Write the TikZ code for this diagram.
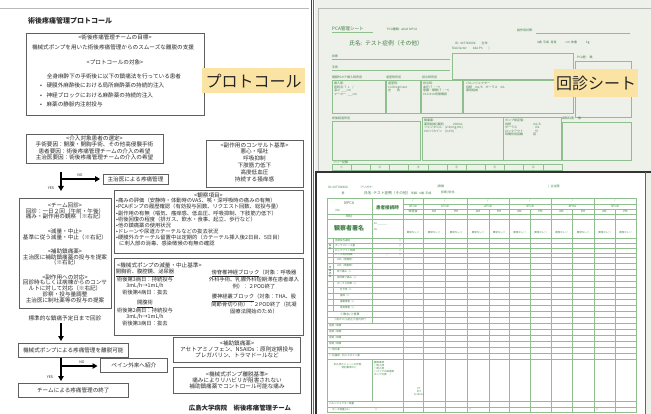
\documentclass[tikz,border=0pt]{standalone}
\usepackage{fontspec}
\setmainfont{Noto Sans CJK JP}
\usetikzlibrary{arrows.meta}
\definecolor{lblyellow}{HTML}{FBE3A4}
\definecolor{fgreen}{HTML}{8FBF8F}
\definecolor{ftext}{HTML}{3F7F45}
\definecolor{panelbg}{HTML}{EEF0EA}
\definecolor{inkc}{HTML}{2A2A2A}
\begin{document}
\begin{tikzpicture}[x=1pt,y=-1pt,
  box/.style={draw=inkc!75, line width=0.7pt, fill=white, inner sep=0pt},
  t/.style={inner sep=0pt, text=inkc, font=\fontsize{5.6}{6.3}\selectfont},
  ts/.style={t, font=\fontsize{5.4}{6.2}\selectfont},
  flow/.style={line width=1.5pt, draw=black, -{Triangle[length=5pt,width=5.5pt]}},
  yn/.style={inner sep=0pt, text=inkc, font=\fontsize{3.6}{4}\selectfont},
  lbl/.style={fill=lblyellow, inner sep=0pt, text=black!85, font=\fontsize{16}{16}\selectfont},
  fl/.style={draw=fgreen, line width=0.45pt},
  ft/.style={inner sep=0pt, text=ftext, font=\fontsize{3}{3.5}\selectfont},
  fts/.style={inner sep=0pt, text=ftext, font=\fontsize{2.5}{3}\selectfont}]
\useasboundingbox (0,0) rectangle (651,414);
\fill[white] (0,0) rectangle (651,414);
% ---------------- left panel ----------------
\draw[gray!55, line width=0.6pt] (0,8) -- (309,8);
\draw[black!75, line width=1pt] (311,0) -- (311,414);
\draw[black!60, line width=1pt] (313.5,0) -- (313.5,414);
\node[t, anchor=west, font=\fontsize{7}{8}\selectfont\bfseries] (title) at (28,21) {術後疼痛管理プロトコール};

% box 1
\node[box, anchor=north west, minimum width=178pt, minimum height=82pt] (b1) at (26,33) {};
\node[t] (b1h1) at (115,37.5) {<術後疼痛管理チームの目標>};
\node[t] (b1l1) at (113,47) {機械式ポンプを用いた術後疼痛管理からのスムーズな離脱の支援};
\node[t] (b1h2) at (115,62) {<プロトコールの対象>};
\node[t] (b1l2) at (114,76) {全身麻酔下の手術後に以下の鎮痛法を行っている患者};
\node[t, anchor=west] (b1u1) at (40,85.5) {•\hspace{4.5pt}硬膜外麻酔後における局所麻酔薬の持続的注入};
\node[t, anchor=west] (b1u2) at (40,95) {•\hspace{4.5pt}神経ブロックにおける麻酔薬の持続的注入};
\node[t, anchor=west] (b1u3) at (40,104.5) {•\hspace{4.5pt}麻薬の静脈内注射投与};
\node[lbl, anchor=north west, minimum width=103pt, minimum height=25pt] (lproto) at (202,68) {プロトコール};

% box 2
\node[box, anchor=north west, minimum width=137pt, minimum height=29pt] (b2) at (26,134) {};
\node[t, align=center] (b2t) at (94.5,148) {<介入対象患者の選定>\\手術要因：開腹・開胸手術、その他高侵襲手術\\患者要因：術後疼痛管理チームの介入の希望\\主治医要因：術後疼痛管理チームの介入の希望};

% consult box
\node[box, anchor=north west, minimum width=97pt, minimum height=47pt] (b3) at (206,140) {};
\node[t, align=center, font=\fontsize{5.6}{6.8}\selectfont] (b3t) at (254.5,162) {<副作用のコンサルト基準>\\悪心・嘔吐\\呼吸抑制\\下肢筋力低下\\高度低血圧\\持続する掻痒感};

% flow 1
\coordinate (a1s) at (61,172);
\coordinate (a1m) at (61,179);
\coordinate (a1e) at (61,191);
\node[box, minimum width=65pt, minimum height=10pt] (n1) at (135.5,179) {};
\node[t] (n1t) at (n1) {主治医による疼痛管理};
\draw[flow] (a1s) -- (a1e);
\draw[flow, shorten >=2.5pt] (a1m) -- (n1.west);
\node[yn] (no1) at (80,175.5) {NO};
\node[yn] (yes1) at (51,188) {YES};

% left column box
\node[box, anchor=north west, minimum width=92pt, minimum height=110pt] (b4) at (19,198) {};
\node[t, align=center, font=\fontsize{5.6}{5.9}\selectfont] (b4a) at (65,211) {<チーム回診>\\回診：一日２回（午前・午後）\\痛み・副作用の観察（※右記）};
\node[t, align=center, font=\fontsize{5.6}{5.9}\selectfont] (b4b) at (65,234) {<減量・中止>\\基準に従う減量・中止（※右記）};
\node[t, align=center, font=\fontsize{5.6}{5.9}\selectfont] (b4c) at (65,257) {<補助鎮痛薬>\\主治医に補助鎮痛薬の投与を提案\\（※右記）};
\node[t, align=center, font=\fontsize{5.6}{5.8}\selectfont] (b4d) at (65,288.5) {<副作用への対応>\\回診時もしくは病棟からのコンサ\\ルトに対して対応（※右記）\\診察・投与量調整\\主治医に制吐薬等の投与の提案};
\node[t] (std) at (65,318) {標準的な鎮痛予定日まで回診};

% observation box
\node[box, anchor=north west, minimum width=189pt, minimum height=63pt] (b5) at (114,190) {};
\node[t] (b5h) at (208.5,195) {<観察項目>};
\node[ts, anchor=north west, align=left, font=\fontsize{5.3}{6.15}\selectfont] (b5t) at (116,198) {•痛みの評価（安静時・体動時のVAS、咳・深呼吸時の痛みの有無）\\•PCAポンプの履歴確認（有効投与回数、リクエスト回数、総投与量）\\•副作用の有無（嘔気、瘙痒感、低血圧、呼吸抑制、下肢筋力低下）\\•術後回復の程度（排ガス、飲水・食事、起立、歩行など）\\•他の鎮痛薬の使用状況\\•ドレーンや尿道カテーテルなどの抜去状況\\•硬膜外カテーテル留置中は定期的（カテーテル挿入後2日目、5日目）\\\hspace{3pt}に刺入部の消毒、感染徴候の有無の確認};

% pump reduction box
\node[box, anchor=north west, minimum width=189pt, minimum height=77pt] (b6) at (114,258) {};
\node[t, anchor=west] (b6h) at (117,265) {<機械式ポンプの減量・中止基準>};
\node[ts, align=center, font=\fontsize{5.3}{6.1}\selectfont] (b6l1) at (145,282) {\underline{開胸術、腹腔鏡、泌尿器}\\術後第3病日：持続投与\\3mL/h→1mL/h\\術後第4病日：抜去};
\node[ts, align=center, font=\fontsize{5.3}{6.1}\selectfont] (b6l2) at (145,313) {\underline{開腹術}\\術後第2病日：持続投与\\3mL/h→1mL/h\\術後第3病日：抜去};
\node[ts, align=center, font=\fontsize{5.3}{6.1}\selectfont] (b6r1) at (254,279) {\underline{傍脊椎神経ブロック}（対象：呼吸器\\外科手術、乳腺外科短期滞在患者導入\\例）：２POD終了};
\node[ts, align=center, font=\fontsize{5.3}{6.1}\selectfont] (b6r2) at (254,304) {\underline{腰神経叢ブロック}（対象：THA、股\\関節骨切り術）：２POD終了（抗凝\\固療法開始のため）};

% flow 2
\coordinate (a2s) at (61,323);
\coordinate (a2e) at (61,341);
\draw[flow] (a2s) -- (a2e);
\node[box, anchor=north west, minimum width=110pt, minimum height=14pt] (n2) at (18,343) {};
\node[t] (n2t) at (n2) {機械式ポンプによる疼痛管理を離脱可能};
\coordinate (a3m) at (61,366);
\coordinate (a3e) at (61,381);
\draw[flow] (n2.south -| a3m) -- (a3e);
\node[box, anchor=north west, minimum width=67pt, minimum height=14pt] (n3) at (100,358) {};
\node[t] (n3t) at (n3) {ペイン外来へ紹介};
\draw[flow, shorten >=2.5pt] (a3m) -- (n3.west |- a3m);
\node[yn] (no2) at (82,362.5) {NO};
\node[yn] (yes2) at (50,377.5) {YES};
\node[box, anchor=north west, minimum width=110pt, minimum height=14pt] (n4) at (18,383) {};
\node[t] (n4t) at (n4) {チームによる疼痛管理の終了};

% adjuvant box
\node[box, anchor=north west, minimum width=127pt, minimum height=25pt] (b7) at (173,337) {};
\node[t, align=center] (b7t) at (237,349.5) {<補助鎮痛薬>\\アセトアミノフェン、NSAIDs：原則定期投与\\プレガバリン、トラマドールなど};
\node[box, anchor=north west, minimum width=127pt, minimum height=26pt] (b8) at (173,367) {};
\node[t, align=center] (b8t) at (237,380.5) {<機械式ポンプ離脱基準>\\痛みによりリハビリが阻害されない\\補助鎮痛薬でコントロール可能な痛み};
\node[t, font=\fontsize{6.4}{7}\selectfont\bfseries] (foot) at (240,408) {広島大学病院　術後疼痛管理チーム};

% ---------------- right top panel ----------------
\fill[panelbg] (314.5,0) rectangle (651,172);
\draw[gray!55, line width=0.6pt] (318,8) -- (651,8);
\draw[gray!55, line width=0.6pt] (318,8) -- (318,172);
\node[ft, anchor=west, font=\fontsize{4.6}{5}\selectfont] (pcat) at (332,29) {PCA管理シート};
\draw[fl] (332,32.5) -- (373,32.5);
\node[ft, anchor=west] (pcak) at (387,29.5) {PCA種類:\ \ adult IVPCA};
\node[ft, anchor=west] (fuku) at (517,30) {副作用対策:};
\draw[fl] (536,33) -- (630,33);
\node[ft, anchor=west, font=\fontsize{5.8}{6.5}\selectfont] (name1) at (349,43) {氏名:\ \ テスト症例（その他）};
\node[ft, anchor=west] (id1) at (455,43) {ID:\ \ 0077XXXXX\qquad 生年:};
\node[ft, anchor=west] (age1) at (537,43) {0歳\ \ 平成\ \ 身長\qquad\quad cm\ \ 体重\qquad\quad kg};
\node[ft, anchor=west] (risk) at (452,49) {Risk factor\qquad ASA PS\qquad )};
\node[ft, anchor=west] (diag) at (332,56) {診断};
\draw[fl] (332,59) -- (450,59);
\node[ft, anchor=west] (ope) at (332,67) {手術};
\draw[fl] (332,70) -- (450,70);
\draw[fl] (452,53) rectangle (573,79);
\node[ft, anchor=west] (pcah) at (577,57) {PCA歴:\quad 無};
\draw[fl] (575,61) rectangle (631,117);
\node[ft, anchor=west] (h1) at (332,77) {硬膜外カテ挿入時所見};
\node[ft, anchor=west] (h2) at (386,77) {退室時所見};
\node[ft, anchor=west] (h3) at (422,77) {投与時所見};
\draw[fl] (332,80) rectangle (385,113);
\draw[fl] (386,80) rectangle (420,113);
\draw[fl] (421,80) rectangle (462,113);
\draw[fl] (463,80) rectangle (573,113);
\node[ft, anchor=north west, align=left] (c1) at (334,82) {挿入部:\\穿刺点:\ T\ \ L\quad /\\深さ\ \ \_\_\_cm\\マーカー\ \ \_\_\_cm};
\node[ft, anchor=north west, align=left] (c2) at (388,82) {退室時:\\Cold sign test\\左\qquad 右};
\node[ft, anchor=north west, align=left] (c3) at (423,82) {投与時:\\血圧(↑・→)\\意識・鎮静(↑・→)\\ロスキの有無確認};
\node[ft, anchor=north west, align=left] (c4) at (466,82) {バルンジェクター\\持続\quad mL/h\quad ボーラス\quad mL\\薬剤組成};
\node[ft, anchor=west] (h4) at (332,118) {術後経過所見};
\draw[fl] (332,121) rectangle (420,160);
\draw[fl] (422,117) rectangle (503,160);
\node[ft, anchor=north west, align=left] (c5) at (424,119) {鎮痛薬:\\薬剤組成(濃度)\qquad\quad 200mL\\フェンタニル\quad (2.5mcg/mL)\\ロピバカイン\quad (0.2\%)};
\draw[fl] (503,117) rectangle (561,160);
\node[ft, anchor=north west, align=left] (c6) at (505,119) {ポンプ設定値:\\持続\hspace{22pt}mL/h\\ボーラス\hspace{18pt}mL\\ロックアウト\hspace{12pt}分\\時間有効回数\hspace{10pt}回};
\node[ft, anchor=west] (h5) at (562,118.5) {麻酔科医:\quad 無};
\draw[fl] (562,122) rectangle (631,160);
\node[ft, anchor=west] (free) at (333,162.5) {フリー記載};
\draw[fl] (332,164.5) rectangle (562,170.5);
\foreach \i in {1,...,11} \draw[fl] (332+\i*19.17,164.5) -- (332+\i*19.17,170.5);
\foreach \i/\s in {0/①,1//,2/②,3//,4/③,5//,6/④,7//,8/⑤,9//,10/⑥,11//}
  \node[ft] at (341.6+\i*19.17,167.5) {\s};
\node[lbl, anchor=north west, minimum width=84pt, minimum height=28pt] (lsheet) at (554,69) {回診シート};

% ---------------- right bottom panel ----------------
\fill[panelbg] (645,172) rectangle (651,414);
\fill[white] (316,172) rectangle (645,414);
\draw[black!80, line width=1.4pt] (651,172) -- (316,172) -- (316,414);
\draw[black!60, line width=0.9pt] (645,172) -- (645,414);
\node[ft] (id2) at (338,187) {ID:\ 0077XXXXX};
\node[ft, anchor=west] (furi) at (360,187) {フリガナ:};
\node[ft] (sex) at (343,193) {男};
\node[ft, anchor=west, font=\fontsize{3.7}{4}\selectfont] (name2) at (364,193) {氏名:\ テスト症例（その他）};
\node[ft, anchor=west] (age2) at (411,193) {年齢:\ \ 0歳\ \ 平成};
\node[ft, anchor=west] (ward) at (437,187) {(病棟};
\node[ft, anchor=west] (dx2) at (441,193) {診断/術式:};
\node[ft, anchor=west] (doc) at (548,187) {)\ \ 主治医:};
% table grid
\draw[fl] (327,198) rectangle (636,412);
\foreach \yy in {204,209} \draw[fl] (403,\yy) -- (636,\yy);
\foreach \yy in {214,219,238,243,248,253,257,263,269,275,281,287,293,299,305,311,317,323,329,335,341,347,353,359,401,407}
  \draw[fl] (327,\yy) -- (636,\yy);
\foreach \xx in {403,423,467,509,551,594} \draw[fl] (\xx,198) -- (\xx,412);
\foreach \xx in {445,489,530,572,615} \draw[fl] (\xx,209) -- (\xx,412);
\draw[fl] (372,198) -- (372,323);
\draw[fl] (372,359) -- (372,401);
\draw[fl] (333,238) -- (333,311);
% header text
\node[ft, font=\fontsize{3.8}{4}\selectfont] (ivpca) at (349,203) {IVPCA};
\node[ft] (no) at (338,210.5) {No.};
\node[ft] (jikoku) at (349,216.5) {時刻};
\node[ft, font=\fontsize{6}{6}\selectfont\bfseries] (kansatsu) at (349,228.5) {観察者署名};
\node[ft, font=\fontsize{4.6}{5}\selectfont\bfseries] (setsuzoku) at (387.5,208) {患者接続時};
\node[fts, anchor=west] (drn) at (374,224) {Dr.\_\_\_\_\_\_\_};
\node[fts, anchor=west] (nsn) at (374,230) {Ns.};
\foreach \cx in {413,445,488,530,572.5,615} \node[ft] at (\cx,201) {/};
\node[ft] at (413,206.5) {0POD};
\node[ft] at (413,211.5) {帰室後};
\foreach \cx/\p in {445/1POD,488/2POD,530/3POD,572.5/4POD,615/5POD} \node[ft] at (\cx,206.5) {\p};
\foreach \cx in {434,478,519.5,561.5,604.5} \node[ft] at (\cx,211.5) {AM};
\foreach \cx in {456,499,540.5,583,625.5} \node[ft] at (\cx,211.5) {PM};
\foreach \cx in {413,434,456,478,499,519.5,540.5,561.5,583,604.5,625.5} {
  \node[fts] at (\cx,216.5) {:};
  \node[fts] at (\cx,233) {異常なし□};
}
% group 1
\node[fts, align=center] at (330,247.5) {設\\定};
\foreach \y/\s in {240.5/持続投与速度,245.5/ボーラスドーズ量,250.5/ロックアウト時間,255/ドーズ有効回数/ドーズ回数}
  {\node[fts, anchor=west] at (335,\y) {\s}; \node[fts] at (400,\y) {□};}
\node[fts] at (387,255) {/};
% group 2
\node[fts, align=center] at (330,272) {疼\\痛\\評\\価};
\foreach \y/\s in {260/VAS（安静時）,266/VAS（体動時）,272/咳で痛み（+/-）,278/深呼吸で痛み（+/-）,284/ボーラス効果（+/-）}
  \node[fts, anchor=west] at (337,\y) {\s};
% group 3
\foreach \y/\s in {290/吐き気（+/-）,296/掻痒（+/-）,302/運動障害（+/-）,308/感覚障害（+/-）}
  \node[fts, anchor=west] at (340,\y) {\s};
% group 4
\node[ft] at (350,314) {①飲水/②食事};
\node[fts] at (350,320) {①排ガス/②起立/③室内歩行};
% group 5
\foreach \y in {326,332,338,344} \node[fts, anchor=west] at (329,\y) {定期\ /\ 頓服};
\node[fts, anchor=west] at (329,350) {□\ 制吐薬};
\node[fts, anchor=west] at (329,356) {□\ 抗掻痒・抗ヒスタミン薬};
% group 6
\node[fts, align=center] at (349,366) {刺入部とドレーンの状態、\\特記事項など};
\node[fts, anchor=north west, align=left] at (374,361) {観察事項\\□刺入部\\□刺入部\\□バッグの破損等\\ポンプ交換:\quad /};
\node[fts, align=center] at (419,392) {PT\\PLT\\Scrbmin};
\node[fts, anchor=west] at (329,404) {バルンジェクター残量};
\node[fts, anchor=west] at (332,409.5) {ポーズ容量(mL)};
\foreach \cx in {376,470,597} \node[fts] at (\cx,409.5) {□};
\end{tikzpicture}
\end{document}
